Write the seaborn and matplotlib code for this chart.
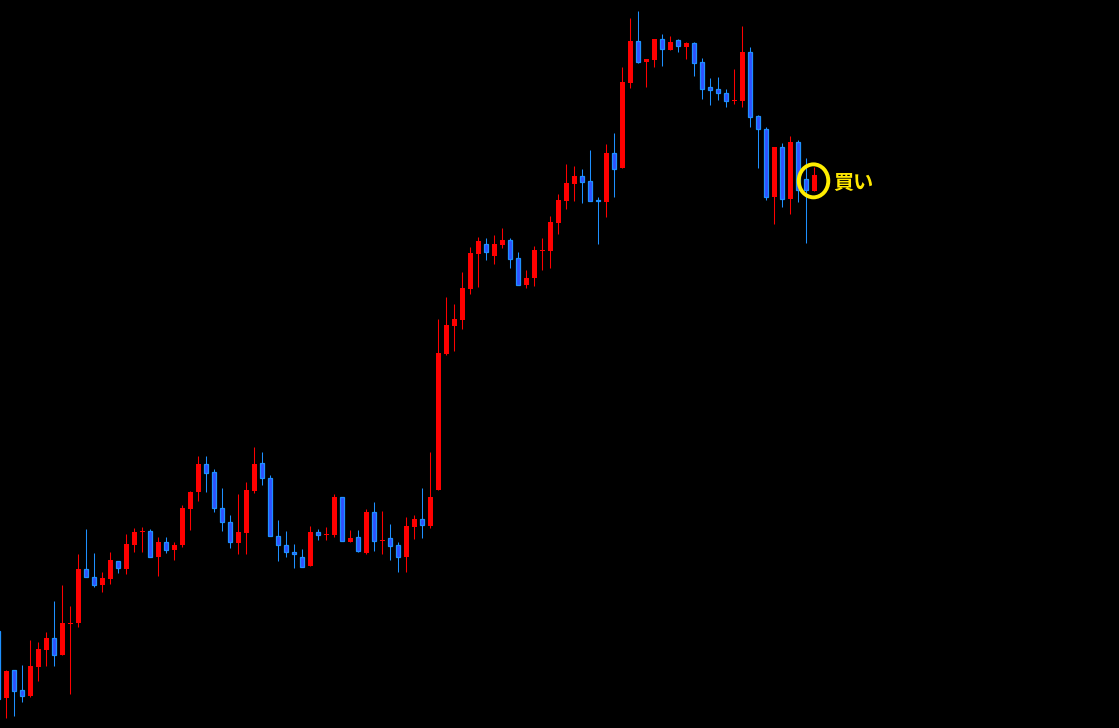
import numpy as np
import pandas as pd
import seaborn as sns
import matplotlib.pyplot as plt
from matplotlib.patches import Ellipse

# OHLC (price units are arbitrary, 1 unit = 1 px of height)
opens = [97, 30.3, 58, 38, 32.3, 61.3, 78.3, 90, 73.3, 104.3, 105, 158.7, 151, 143.3, 149.3, 166.7,
         159.3, 183.3, 196, 196.7, 170.7, 185.7, 177.7, 183.3, 219.3, 236.3, 263.7, 255.7, 219.7, 205.7,
         185.3, 195.3, 237.3, 264.7, 249.7, 191.7, 182.7, 175.7, 170.7, 162.3, 195.7, 193, 193.3, 230.7,
         186.3, 190.7, 175.3, 215.7, 187.5, 189.7, 182.7, 171.3, 201.3, 208.7, 202.3, 238.3, 374, 402,
         408.3, 439, 474.3, 484, 472.3, 483.3, 488, 470, 443.3, 450.3, 477.5, 477.3, 505.3, 527.3, 544.3,
         551.7, 547, 528, 526.3, 575, 560.3, 645.3, 687, 666.3, 668.3, 689, 678.3, 687.7, 681.3, 685, 666,
         640.7, 638.7, 634.7, 626.7, 627.3, 675.7, 612, 599, 531.3, 581, 529.3, 586, 549, 537.3]
highs = [97, 58, 58, 63, 88, 86, 96, 127, 143, 122, 174, 199, 175, 156, 176, 167.3,
         194, 200, 200.7, 198.7, 190.7, 190.7, 185.7, 222.7, 237, 272, 272, 259, 240, 213,
         234, 246, 281, 276, 253, 208, 197, 184, 179, 202, 199, 201, 234, 230.7,
         198, 198, 219, 226, 217, 204, 186, 211, 213, 240, 276, 409, 431, 424,
         456, 481, 491, 490, 493, 500, 490, 476, 458, 482, 490, 512, 534, 564, 562,
         559, 578, 530.7, 584, 595, 661, 710, 717, 668.7, 689, 694, 692, 689, 686, 686, 670,
         650, 651, 639, 659, 702, 681, 613, 601, 581, 585, 592, 588, 570, 561]
lows = [29, 10.3, 12.3, 26.3, 31.3, 47.3, 62.3, 62.3, 73.3, 34.3, 101.3, 150.7, 141.3, 136.3, 144.3, 155.3,
        154.3, 176, 176.3, 170.7, 152.3, 175.3, 168.3, 181.3, 198.3, 227, 236.3, 216.3, 197.3, 180.3,
        174.3, 174.3, 235.3, 243.3, 191.7, 167.3, 171.3, 160.3, 160.7, 162.3, 188.3, 188.3, 191.3, 187.3,
        186.3, 176.3, 174.3, 177.3, 174.3, 168.3, 156.3, 156.3, 189.3, 190.3, 200.3, 238, 373.3, 377,
        398.7, 434.3, 441, 468.3, 464.3, 480.3, 460.3, 443.3, 440.3, 442.3, 458.3, 460.3, 494.3, 519.3, 527.3,
        525.3, 527.3, 484.3, 511.3, 531.3, 560.3, 640.3, 664.7, 641.3, 661.3, 662.3, 678.3, 675.7, 669.3, 652.3, 629.3,
        623.3, 628.3, 621.3, 624.3, 621.3, 601.3, 559.7, 528, 504.3, 521.3, 514.3, 526.3, 484.7, 537.3]
closes = [29, 57, 37.3, 32.3, 62, 79, 90, 73.3, 105, 105, 159, 150.7, 143.3, 150, 168, 160.3,
          184, 196, 196.7, 170.7, 186, 177.7, 182.7, 220, 236, 264, 254.7, 219.7, 205.7, 185.7,
          196, 238, 264, 249.7, 191.7, 182.7, 175.7, 173.7, 160.7, 196, 192.7, 194, 231, 187.3,
          189.7, 177.3, 216, 187.3, 188.5, 182.3, 171.3, 202, 209, 202.7, 231, 375, 403, 409,
          440, 475, 487, 475.7, 484, 488, 469.3, 443.3, 450, 478, 478.5, 506, 528, 545, 552,
          546.3, 527.3, 527, 575, 559.3, 646.3, 687, 666.3, 668.7, 689, 678.7, 686, 681.7, 685, 664.7, 639.3,
          637.7, 634.7, 626.7, 628, 676, 610.7, 598.7, 531.3, 581, 529.3, 586, 538, 538, 553]

signal_text = "買い"

df = pd.DataFrame({"open": opens, "high": highs, "low": lows, "close": closes})
df["x"] = np.arange(len(df)) - 1  # first candle is cut by the left edge
df["up"] = df["close"] >= df["open"]

sns.set_theme(style="dark", rc={"axes.facecolor": "black", "figure.facecolor": "black"})
plt.rcParams['font.family'] = ['Noto Sans CJK JP', 'DejaVu Sans']

fig = plt.figure(figsize=(11.19, 7.28), dpi=100)
ax = fig.add_axes([0, 0, 1, 1])
ax.set_facecolor("black")

red = "#ff0000"
wick_blue = "#1e90ff"
body_blue = "#3050ff"

up = df[df["up"]]
dn = df[~df["up"]]

# wicks
ax.vlines(up["x"], up["low"], up["high"], color=red, linewidth=0.75, zorder=1)
ax.vlines(dn["x"], dn["low"], dn["high"], color=wick_blue, linewidth=0.75, zorder=1)

# bodies
up_h = np.maximum(up["close"] - up["open"], 1)
dn_h = np.maximum(dn["open"] - dn["close"], 1)
ax.bar(up["x"], up_h, bottom=up["open"], width=0.62, color=red, linewidth=0, zorder=2)
ax.bar(dn["x"], dn_h, bottom=dn["close"], width=0.52, color=body_blue,
       edgecolor=wick_blue, linewidth=0.9, zorder=2)

# signal marker on the last candle
last = df.iloc[-1]
mid = (last["open"] + last["close"]) / 2
ax.add_patch(Ellipse((last["x"] - 0.1, mid + 2), width=3.7, height=33, fill=False,
                     edgecolor="#ffee00", linewidth=2.8, zorder=3))
ax.text(last["x"] + 2.4, mid, signal_text, color="#ffe800", fontsize=14.5,
        fontweight="bold", va="center", ha="left", zorder=4)

ax.set_xlim(-0.7875, 139.0875)
ax.set_ylim(0, 728)
ax.set_axis_off()

plt.savefig("out.png", dpi=100, facecolor="black")
